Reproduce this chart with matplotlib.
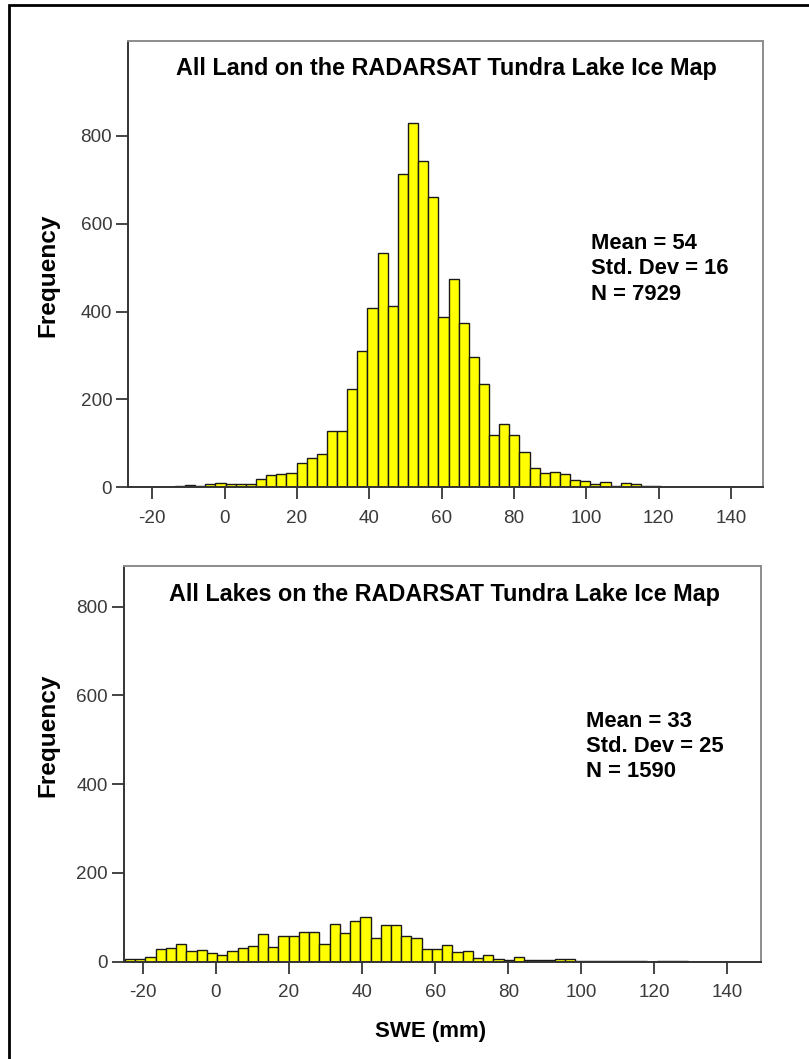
import matplotlib
matplotlib.use("Agg")
import matplotlib.pyplot as plt
from matplotlib.patches import Rectangle
import numpy as np

# ---------------- data ----------------
bin_width = 2.8
land_bin_start = -16.5
land_counts = [1, 4, 5, 2, 8, 10, 7, 7, 7, 19, 28, 30, 33, 56, 67, 76, 127, 127,
               223, 311, 408, 532, 412, 712, 829, 743, 661, 387, 474, 373, 296,
               236, 120, 145, 120, 80, 43, 32, 35, 30, 17, 15, 8, 11, 4, 10, 7,
               3, 2, 1, 1, 1, 0, 1, 1]
lake_bin_start = -24.9
lake_counts = [6, 6, 11, 28, 32, 39, 23, 27, 20, 15, 23, 31, 35, 62, 34, 58, 59,
               66, 66, 39, 86, 64, 92, 100, 53, 82, 83, 59, 54, 29, 29, 38, 22,
               23, 8, 14, 7, 4, 10, 3, 4, 4, 5, 6, 2, 1, 1, 2, 1, 1, 1, 0, 1, 2, 1]

titles = ["All Land on the RADARSAT Tundra Lake Ice Map",
          "All Lakes on the RADARSAT Tundra Lake Ice Map"]
stats = [["Mean = 54", "Std. Dev = 16", "N = 7929"],
         ["Mean = 33", "Std. Dev = 25", "N = 1590"]]
x_ticks = [-20, 0, 20, 40, 60, 80, 100, 120, 140]
y_ticks = [0, 200, 400, 600, 800]
x_label = "SWE (mm)"
y_label = "Frequency"

# ---------------- layout ----------------
W, H = 809, 1059
DPI = 100
plt.rcParams['font.family'] = ['Liberation Sans', 'DejaVu Sans']
plt.rcParams['axes.unicode_minus'] = False
fig = plt.figure(figsize=(W / DPI, H / DPI), dpi=DPI)
fig.patch.set_facecolor('white')

def fx(px):
    return px / W

def fy(py):
    return 1 - py / H

# outer border (left and top visible)
fig.add_artist(Rectangle((fx(9), fy(1070)), fx(820), (1070 - 5) / H,
                         transform=fig.transFigure, fill=False,
                         edgecolor='black', linewidth=2.0))

panels = [
    dict(box=(128.3, 41.0, 763.3, 487.3), xlim=(-26.6, 148.9), ylim=(0, 1015.5),
         start=land_bin_start, counts=land_counts,
         title_xy=(446.3, 75.0), stat_xy=(591, 249), ylab_xy=(48, 275)),
    dict(box=(124.0, 565.7, 760.7, 961.7), xlim=(-25.18, 149.1), ylim=(0, 892.4),
         start=lake_bin_start, counts=lake_counts,
         title_xy=(444.3, 600.7), stat_xy=(586, 726.7), ylab_xy=(48, 735)),
]

for i, p in enumerate(panels):
    l, t, r, b = p['box']
    ax = fig.add_axes([fx(l), fy(b), (r - l) / W, (b - t) / H])
    counts = np.array(p['counts'], dtype=float)
    lefts = p['start'] + bin_width * np.arange(len(counts))
    ax.bar(lefts, counts, width=bin_width, align='edge', color='#ffff00',
           edgecolor='#1a1a1a', linewidth=1.0, zorder=2)
    ax.set_xlim(*p['xlim'])
    ax.set_ylim(*p['ylim'])
    ax.set_xticks(x_ticks)
    ax.set_yticks(y_ticks)
    ax.tick_params(axis='both', direction='out', length=8.6, width=1.4,
                   color='#444444', labelsize=13.6, labelcolor='#3a3a3a')
    ax.tick_params(axis='y', pad=3)
    ax.tick_params(axis='x', pad=7.5)
    for s in ['left', 'bottom']:
        ax.spines[s].set_color('#333333')
        ax.spines[s].set_linewidth(1.4)
    for s in ['top', 'right']:
        ax.spines[s].set_color('#8c8c8c')
        ax.spines[s].set_linewidth(1.4)

    tx, ty = p['title_xy']
    fig.text(fx(tx), fy(ty), titles[i], ha='center', va='baseline',
             fontsize=16.85, fontweight='bold', color='black')
    sx, sy = p['stat_xy']
    for j, line in enumerate(stats[i]):
        fig.text(fx(sx), fy(sy + 25.3 * j), line, ha='left', va='baseline',
                 fontsize=15.85, fontweight='bold', color='black')
    yx, yy = p['ylab_xy']
    fig.text(fx(yx), fy(yy), y_label, rotation=90, ha='center', va='center',
             fontsize=17.6, fontweight='bold', color='black')

fig.text(fx(430.8), fy(1037.3), x_label, ha='center', va='baseline',
         fontsize=16, fontweight='bold', color='black')

fig.savefig('out.png', dpi=DPI)
